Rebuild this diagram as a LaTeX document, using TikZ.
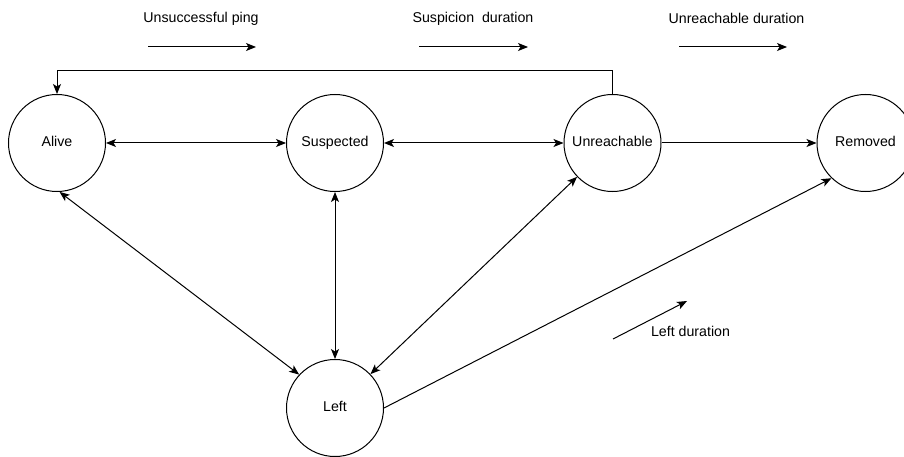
\documentclass[tikz,border=0pt]{standalone}
\usepackage{fontspec}
\setmainfont{Liberation Sans}
\usetikzlibrary{arrows.meta}
\tikzset{
  tip/.tip={Stealth[length=10pt,width=8pt,inset=2.5pt]},
  state/.style={circle,draw,line width=1pt,minimum size=97pt,inner sep=0pt,text height=0.98em,text depth=0.2em,font=\fontsize{14.2}{17}\selectfont},
  lbl/.style={inner sep=0pt,font=\fontsize{14.2}{17}\selectfont},
  conn/.style={line width=1pt,-tip},
  biconn/.style={line width=1pt,tip-tip},
}
\begin{document}
\begin{tikzpicture}[x=1pt,y=-1pt]
\useasboundingbox (0,0) rectangle (904,457);
% states
\node[state] (alive) at (57,143) {Alive};
\node[state] (susp) at (335,143) {Suspected};
\node[state] (unre) at (612.5,143) {Unreachable};
\node[state] (rem) at (865.5,143) {Removed};
\node[state] (left) at (335,408) {Left};
% legend
\node[lbl] (l1) at (201,18.5) {Unsuccessful ping};
\node[lbl] (l2) at (473,18.5) {Suspicion~~duration};
\node[lbl] (l3) at (736.5,18.5) {Unreachable duration};
\node[lbl] (l4) at (690.5,331.5) {Left duration};
\coordinate (a1s) at (148,47); \coordinate (a1e) at (256,47);
\coordinate (a2s) at (419,47); \coordinate (a2e) at (528,47);
\coordinate (a3s) at (679,47); \coordinate (a3e) at (787,47);
\coordinate (a4s) at (613,339); \coordinate (a4e) at (687,301);
\draw[conn] (a1s) -- (a1e);
\draw[conn] (a2s) -- (a2e);
\draw[conn] (a3s) -- (a3e);
\draw[conn] (a4s) -- (a4e);
% connectors
\draw[biconn] (alive) -- (susp);
\draw[biconn] (susp) -- (unre);
\draw[conn] (unre) -- (rem);
\draw[conn] (unre.north) -- ++(0,-23) -| (alive.north);
\draw[biconn] (alive.-87) -- (left.137);
\draw[biconn] (susp) -- (left);
\draw[biconn] (unre) -- (left);
\draw[conn] (left.east) -- (rem.-134);
\end{tikzpicture}
\end{document}
